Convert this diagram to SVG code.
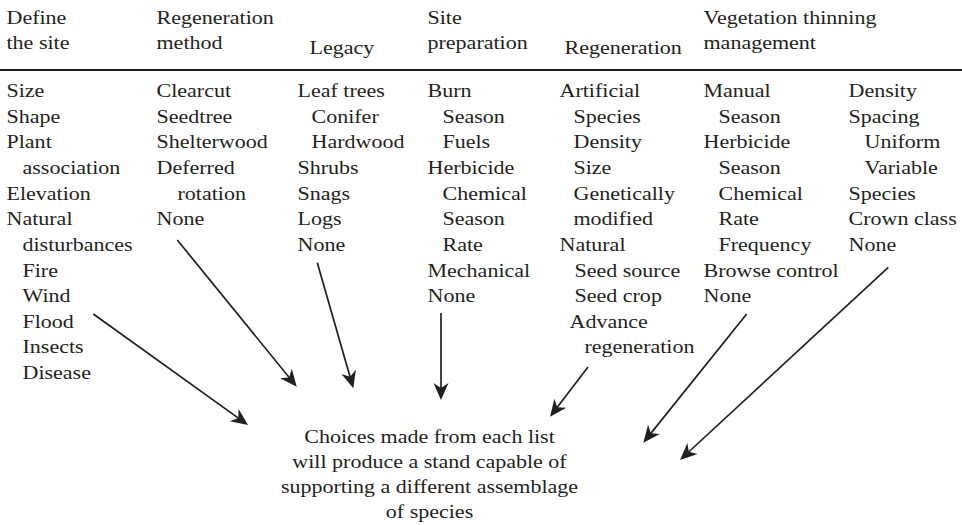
<svg xmlns="http://www.w3.org/2000/svg" width="962" height="525" viewBox="0 0 962 525">
<style>
text{font-family:"Liberation Serif","Times New Roman",serif;font-size:18.5px;fill:#231f20}
.c text{text-anchor:middle}
.conn line{stroke:#231f20;stroke-width:1.7;fill:none;marker-end:url(#ah)}
</style>
<defs>
<marker id="ah" markerUnits="userSpaceOnUse" markerWidth="22" markerHeight="18" viewBox="0 -9 20 18" refX="6" refY="0" orient="auto">
<path d="M0,-7.5 L17,0 L0,7.5 L5,0 Z" fill="#231f20"/>
</marker>
</defs>
<rect width="962" height="525" fill="#ffffff"/>
<line x1="0" y1="70" x2="962" y2="70" stroke="#231f20" stroke-width="1.8"/>
<g id="define-site" transform="translate(6.5,0) scale(1.19,1)">
<text x="0" y="24.5">Define</text>
<text x="0" y="49.5">the site</text>
<text x="0" y="97">Size</text>
<text x="0" y="122.65">Shape</text>
<text x="0" y="148.3">Plant</text>
<text x="13.45" y="173.95">association</text>
<text x="0" y="199.6">Elevation</text>
<text x="0" y="225.25">Natural</text>
<text x="13.45" y="250.9">disturbances</text>
<text x="13.45" y="276.55">Fire</text>
<text x="13.45" y="302.2">Wind</text>
<text x="13.45" y="327.85">Flood</text>
<text x="13.45" y="353.5">Insects</text>
<text x="13.45" y="379.15">Disease</text>
</g>
<g id="regeneration-method" transform="translate(156.5,0) scale(1.19,1)">
<text x="0" y="24.5">Regeneration</text>
<text x="0" y="49.5">method</text>
<text x="0" y="97">Clearcut</text>
<text x="0" y="122.65">Seedtree</text>
<text x="0" y="148.3">Shelterwood</text>
<text x="0" y="173.95">Deferred</text>
<text x="17.65" y="199.6">rotation</text>
<text x="0" y="225.25">None</text>
</g>
<g id="legacy" transform="translate(297.5,0) scale(1.19,1)">
<text x="10.08" y="54.5">Legacy</text>
<text x="0" y="97">Leaf trees</text>
<text x="11.76" y="122.65">Conifer</text>
<text x="11.76" y="148.3">Hardwood</text>
<text x="0" y="173.95">Shrubs</text>
<text x="0" y="199.6">Snags</text>
<text x="0" y="225.25">Logs</text>
<text x="0" y="250.9">None</text>
</g>
<g id="site-preparation" transform="translate(427.5,0) scale(1.19,1)">
<text x="0" y="24.5">Site</text>
<text x="0" y="49.5">preparation</text>
<text x="0" y="97">Burn</text>
<text x="12.6" y="122.65">Season</text>
<text x="12.6" y="148.3">Fuels</text>
<text x="0" y="173.95">Herbicide</text>
<text x="12.6" y="199.6">Chemical</text>
<text x="12.6" y="225.25">Season</text>
<text x="12.6" y="250.9">Rate</text>
<text x="0" y="276.55">Mechanical</text>
<text x="0" y="302.2">None</text>
</g>
<g id="regeneration" transform="translate(559.5,0) scale(1.19,1)">
<text x="4.2" y="54.5">Regeneration</text>
<text x="0" y="97">Artificial</text>
<text x="11.76" y="122.65">Species</text>
<text x="11.76" y="148.3">Density</text>
<text x="11.76" y="173.95">Size</text>
<text x="11.76" y="199.6">Genetically</text>
<text x="11.76" y="225.25">modified</text>
<text x="0" y="250.9">Natural</text>
<text x="12.6" y="276.55">Seed source</text>
<text x="12.6" y="302.2">Seed crop</text>
<text x="8.4" y="327.85">Advance</text>
<text x="21" y="353.5">regeneration</text>
</g>
<g id="vegetation-management" transform="translate(703.5,0) scale(1.19,1)">
<text x="0" y="24.5">Vegetation thinning</text>
<text x="0" y="49.5">management</text>
<text x="0" y="97">Manual</text>
<text x="12.6" y="122.65">Season</text>
<text x="0" y="148.3">Herbicide</text>
<text x="12.6" y="173.95">Season</text>
<text x="12.6" y="199.6">Chemical</text>
<text x="12.6" y="225.25">Rate</text>
<text x="12.6" y="250.9">Frequency</text>
<text x="0" y="276.55">Browse control</text>
<text x="0" y="302.2">None</text>
</g>
<g id="thinning" transform="translate(848.5,0) scale(1.19,1)">
<text x="0" y="97">Density</text>
<text x="0" y="122.65">Spacing</text>
<text x="13.45" y="148.3">Uniform</text>
<text x="13.45" y="173.95">Variable</text>
<text x="0" y="199.6">Species</text>
<text x="0" y="225.25">Crown class</text>
<text x="0" y="250.9">None</text>
</g>
<g id="outcome" class="c" transform="translate(429.5,0) scale(1.19,1)">
<text x="0" y="443">Choices made from each list</text>
<text x="0" y="468">will produce a stand capable of</text>
<text x="0" y="493">supporting a different assemblage</text>
<text x="0" y="518">of species</text>
</g>
<g id="connectors" class="conn">
<line x1="93.3" y1="314" x2="239.1" y2="418.6"/>
<line x1="177.3" y1="240" x2="289.8" y2="378.2"/>
<line x1="317.3" y1="262.7" x2="350.3" y2="377.7"/>
<line x1="441" y1="313" x2="441" y2="389"/>
<line x1="588" y1="367" x2="556.7" y2="408"/>
<line x1="746.7" y1="314" x2="650.2" y2="434.1"/>
<line x1="888.3" y1="267.3" x2="688.1" y2="452.5"/>
</g>
</svg>
